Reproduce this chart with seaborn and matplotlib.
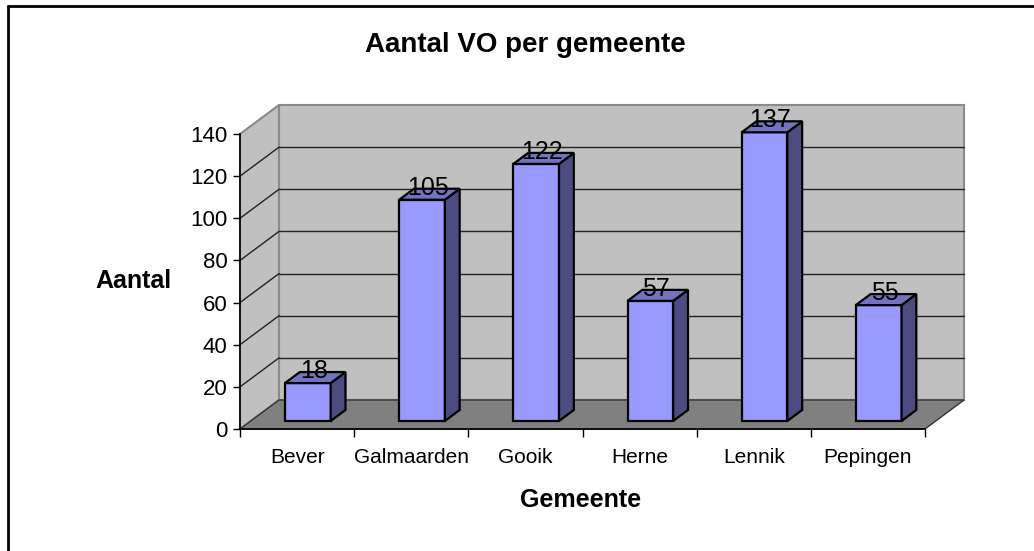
import numpy as np
import pandas as pd
import seaborn as sns
import matplotlib.pyplot as plt
from matplotlib.patches import Polygon
from matplotlib.lines import Line2D

# data
gemeenten = ['Bever', 'Galmaarden', 'Gooik', 'Herne', 'Lennik', 'Pepingen']
aantal = [18, 105, 122, 57, 137, 55]
y_ticks = [0, 20, 40, 60, 80, 100, 120, 140]

df = pd.DataFrame({'Gemeente': gemeenten, 'Aantal': aantal})

sns.set_theme(style='white')
plt.rcParams['font.family'] = ['Liberation Sans', 'DejaVu Sans']
plt.rcParams['text.color'] = 'black'
plt.rcParams['xtick.color'] = 'black'
plt.rcParams['ytick.color'] = 'black'
plt.rcParams['axes.labelcolor'] = 'black'

W, H = 1034, 551
fig = plt.figure(figsize=(W / 100, H / 100), dpi=100)
# front plane of the fake 3d box (pixels: x 240..925, y 429..134)
ax = fig.add_axes([240 / W, (H - 429) / H, 685 / W, 295 / H])
ax.set_facecolor('none')

n = len(gemeenten)
ymax = y_ticks[-1]
x0, x1 = -0.5, n - 0.5
DX, DY = 39 / 114.17, 29 / 2.107     # full depth of the box in data units

wall_kw = dict(clip_on=False, linewidth=1.5, edgecolor='#8a8a8a', zorder=0.5)
# back wall, left wall, floor
ax.add_patch(Polygon([(x0 + DX, DY), (x1 + DX, DY), (x1 + DX, ymax + DY), (x0 + DX, ymax + DY)],
                     facecolor='#C0C0C0', **wall_kw))
ax.add_patch(Polygon([(x0, 0), (x0 + DX, DY), (x0 + DX, ymax + DY), (x0, ymax)],
                     facecolor='#C0C0C0', **wall_kw))
ax.add_patch(Polygon([(x0, 0), (x1, 0), (x1 + DX, DY), (x0 + DX, DY)],
                     facecolor='#808080', edgecolor='#333333', linewidth=1, clip_on=False, zorder=0.6))

# gridlines on the walls
for v in y_ticks[1:-1]:
    ax.plot([x0 + DX, x1 + DX], [v + DY, v + DY], color='#222222', lw=1, clip_on=False, zorder=0.7)
    ax.plot([x0, x0 + DX], [v, v + DY], color='#222222', lw=1, clip_on=False, zorder=0.7)

sns.barplot(data=df, x='Gemeente', y='Aantal', order=gemeenten, color='#9999FF', saturation=1,
            width=0.40, edgecolor='black', linewidth=1.6, ax=ax, zorder=2)

# push the bars a bit into the box and give them depth
f0, fb = 0.276, 0.38
sx, sy = f0 * DX, f0 * DY
bdx, bdy = fb * DX, fb * DY
for patch, value in zip(ax.patches[3:], aantal):
    patch.set_x(patch.get_x() + sx)
    patch.set_y(patch.get_y() + sy)
    patch.set_clip_on(False)
    bx0 = patch.get_x()
    bx1 = bx0 + patch.get_width()
    by0 = patch.get_y()
    by1 = by0 + patch.get_height()
    ax.add_patch(Polygon([(bx1, by0), (bx1 + bdx, by0 + bdy), (bx1 + bdx, by1 + bdy), (bx1, by1)],
                         facecolor='#4C4C80', edgecolor='black', linewidth=1.6, clip_on=False, zorder=2))
    ax.add_patch(Polygon([(bx0, by1), (bx1, by1), (bx1 + bdx, by1 + bdy), (bx0 + bdx, by1 + bdy)],
                         facecolor='#7373C0', edgecolor='black', linewidth=1.6, clip_on=False, zorder=2))
    ax.text((bx0 + bx1) / 2 + bdx * 0.4, by1 + bdy + 0.5, f'{value}', ha='center', va='center',
            fontsize=18, color='black', zorder=3)

ax.set_xlim(x0, x1)
ax.set_ylim(0, ymax)
ax.set_yticks(y_ticks)
ax.set_yticklabels([str(t) for t in y_ticks], fontsize=16)
ax.set_xticks(range(n))
ax.set_xticklabels(gemeenten, fontsize=15)
ax.set_xticks(np.arange(x0, x1 + 0.01, 1), minor=True)
ax.tick_params(axis='x', which='major', length=0, pad=14)
ax.tick_params(axis='x', which='minor', length=6, width=1, color='black', direction='out', bottom=True)
ax.tick_params(axis='y', length=5, width=1, color='black', direction='out', left=True, pad=4)

for side in ['top', 'right']:
    ax.spines[side].set_visible(False)
for side in ['left', 'bottom']:
    ax.spines[side].set_color('black')
    ax.spines[side].set_linewidth(1.2)
    ax.spines[side].set_zorder(2.5)

ax.set_xlabel('')
ax.set_ylabel('')
fig.text(525 / W, 1 - 45 / H, 'Aantal VO per gemeente', ha='center', va='center',
         fontsize=20, fontweight='bold')
fig.text(133 / W, 1 - 281 / H, 'Aantal', ha='center', va='center', fontsize=18, fontweight='bold')
fig.text(581 / W, 1 - 500 / H, 'Gemeente', ha='center', va='center', fontsize=18, fontweight='bold')

# chart border (only top and left edges fall inside the picture)
fig.add_artist(Line2D([8 / W, 8 / W], [0, 1 - 6 / H], color='black', lw=2, transform=fig.transFigure))
fig.add_artist(Line2D([8 / W, 1], [1 - 6 / H, 1 - 6 / H], color='black', lw=2, transform=fig.transFigure))

fig.savefig('out.png', dpi=100)
